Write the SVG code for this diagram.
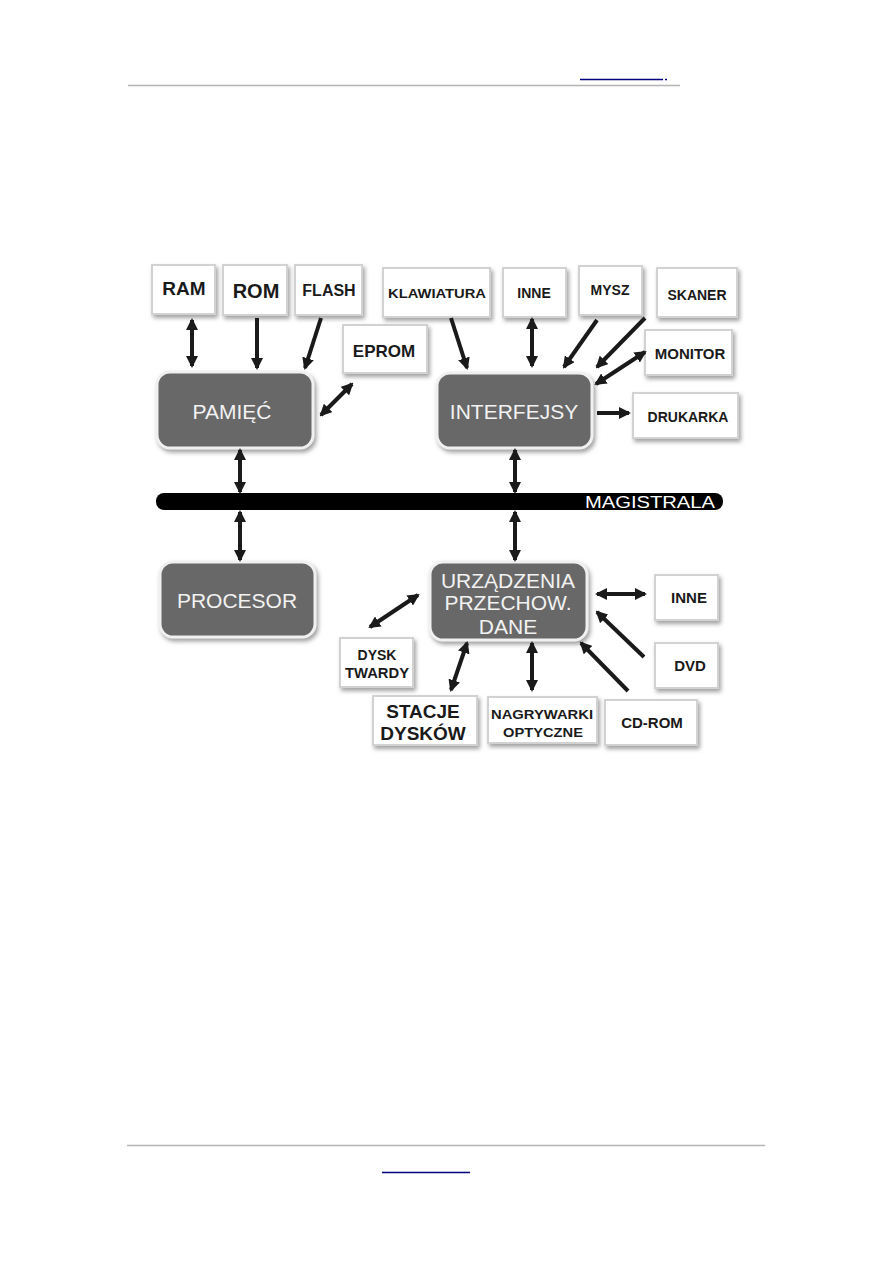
<svg xmlns="http://www.w3.org/2000/svg" width="893" height="1263" viewBox="0 0 893 1263">
<defs>
<filter id="sh" x="-20%" y="-20%" width="150%" height="160%">
<feDropShadow dx="2" dy="3" stdDeviation="2" flood-color="#8a8a8a" flood-opacity="0.8"/>
</filter>
<marker id="ah" viewBox="0 0 12 12" refX="10" refY="6" markerWidth="12" markerHeight="12" markerUnits="userSpaceOnUse" orient="auto-start-reverse">
<path d="M0,0 L12,6 L0,12 z" fill="#1a1a1a"/>
</marker>
</defs>
<style>
.bx{fill:#ffffff;stroke:#d2d2d2;stroke-width:2;filter:url(#sh)}
.dk{fill:#676767;stroke:#f0f0f0;stroke-width:3;filter:url(#sh)}
.t{font-family:"Liberation Sans",Arial,sans-serif;font-weight:bold;fill:#1a1a1a;text-anchor:middle}
.w{font-family:"Liberation Sans",Arial,sans-serif;fill:#f2f2f2;text-anchor:middle;font-size:21px}
.a{stroke:#1a1a1a;stroke-width:4;fill:none;marker-end:url(#ah)}
.d{stroke:#1a1a1a;stroke-width:4;fill:none;marker-end:url(#ah);marker-start:url(#ah)}
.rule{stroke:#b4b4b4;stroke-width:1.5}
.lnk{stroke:#000080;stroke-width:1.5}
</style>
<rect width="893" height="1263" fill="#ffffff"/>
<g id="page">
<line class="rule" x1="128" y1="85.5" x2="680" y2="85.5"/>
<line class="lnk" x1="580" y1="79.5" x2="663" y2="79.5"/>
<line class="lnk" x1="665" y1="79.5" x2="667" y2="79.5"/>
<line class="rule" x1="127" y1="1145.5" x2="765" y2="1145.5"/>
<line class="lnk" x1="382" y1="1172.5" x2="470" y2="1172.5"/>
</g>
<g id="bus">
<rect x="156" y="493" width="567" height="17" rx="8" fill="#000"/>
<text x="585" y="508" font-family="'Liberation Sans',Arial,sans-serif" font-size="17" fill="#ffffff" textLength="130" lengthAdjust="spacingAndGlyphs">MAGISTRALA</text>
</g>
<g id="ram"><rect class="bx" x="152" y="265" width="63" height="49"/><text class="t" x="184" y="295" font-size="19">RAM</text></g>
<g id="rom"><rect class="bx" x="223" y="265" width="64" height="50"/><text class="t" x="256" y="298" font-size="20">ROM</text></g>
<g id="flash"><rect class="bx" x="295" y="265" width="67" height="50"/><text class="t" x="329" y="296" font-size="16">FLASH</text></g>
<g id="eprom"><rect class="bx" x="343" y="325" width="84" height="48"/><text class="t" x="384" y="357" font-size="17">EPROM</text></g>
<g id="klawiatura"><rect class="bx" x="383" y="268" width="107" height="49"/><text class="t" x="437" y="298" font-size="13" textLength="98" lengthAdjust="spacingAndGlyphs">KLAWIATURA</text></g>
<g id="inne1"><rect class="bx" x="503" y="268" width="63" height="49"/><text class="t" x="534" y="298" font-size="14">INNE</text></g>
<g id="mysz"><rect class="bx" x="579" y="266" width="63" height="49"/><text class="t" x="610" y="295" font-size="14">MYSZ</text></g>
<g id="skaner"><rect class="bx" x="657" y="268" width="80" height="49"/><text class="t" x="697" y="300" font-size="14">SKANER</text></g>
<g id="monitor"><rect class="bx" x="645" y="330" width="87" height="45"/><text class="t" x="690" y="359" font-size="15">MONITOR</text></g>
<g id="drukarka"><rect class="bx" x="633" y="393" width="105" height="45"/><text class="t" x="688" y="422" font-size="14">DRUKARKA</text></g>
<g id="pamiec"><rect class="dk" x="157" y="372" width="156" height="76" rx="13"/><text class="w" x="232" y="419">PAMIĘĆ</text></g>
<g id="interfejsy"><rect class="dk" x="437" y="373" width="155" height="75" rx="13"/><text class="w" x="514" y="419">INTERFEJSY</text></g>
<g id="procesor"><rect class="dk" x="160" y="562" width="155" height="75" rx="13"/><text class="w" x="237" y="608">PROCESOR</text></g>
<g id="urzadzenia"><rect class="dk" x="430" y="562" width="157" height="78" rx="13"/>
<text class="w" x="508" y="588">URZĄDZENIA</text><text class="w" x="508" y="610">PRZECHOW.</text><text class="w" x="508" y="634">DANE</text></g>
<g id="inne2"><rect class="bx" x="655" y="575" width="63" height="45"/><text class="t" x="689" y="603" font-size="15">INNE</text></g>
<g id="dvd"><rect class="bx" x="655" y="643" width="63" height="45"/><text class="t" x="690" y="671" font-size="15">DVD</text></g>
<g id="cdrom"><rect class="bx" x="605" y="700" width="92" height="45"/><text class="t" x="652" y="728" font-size="15">CD-ROM</text></g>
<g id="nagrywarki"><rect class="bx" x="488" y="697" width="109" height="46"/><text class="t" x="542" y="719" font-size="13" textLength="102" lengthAdjust="spacingAndGlyphs">NAGRYWARKI</text><text class="t" x="543" y="737" font-size="13" textLength="80" lengthAdjust="spacingAndGlyphs">OPTYCZNE</text></g>
<g id="stacje"><rect class="bx" x="373" y="696" width="104" height="49"/><text class="t" x="423" y="718" font-size="19">STACJE</text><text class="t" x="423" y="740" font-size="19">DYSKÓW</text></g>
<g id="dysk"><rect class="bx" x="340" y="638" width="73" height="49"/><text class="t" x="377" y="660" font-size="14">DYSK</text><text class="t" x="377" y="678" font-size="14" textLength="64" lengthAdjust="spacingAndGlyphs">TWARDY</text></g>
<g id="connectors">
<line class="d" x1="192" y1="320" x2="192" y2="366"/>
<line class="a" x1="257" y1="318" x2="257" y2="368"/>
<line class="a" x1="321" y1="318" x2="305" y2="368"/>
<line class="d" x1="352" y1="384" x2="321" y2="415"/>
<line class="a" x1="451" y1="318" x2="467" y2="368"/>
<line class="d" x1="532" y1="319" x2="532" y2="366"/>
<line class="a" x1="597" y1="320" x2="564" y2="367"/>
<line class="a" x1="645" y1="318" x2="597" y2="367"/>
<line class="d" x1="596" y1="384" x2="645" y2="352"/>
<line class="a" x1="597" y1="413" x2="629" y2="413"/>
<line class="d" x1="240" y1="450" x2="240" y2="492"/>
<line class="d" x1="240" y1="512" x2="240" y2="560"/>
<line class="d" x1="515" y1="450" x2="515" y2="492"/>
<line class="d" x1="515" y1="512" x2="515" y2="560"/>
<line class="d" x1="597" y1="594" x2="645" y2="594"/>
<line class="a" x1="644" y1="657" x2="597" y2="612"/>
<line class="a" x1="628" y1="691" x2="581" y2="643"/>
<line class="d" x1="532" y1="643" x2="532" y2="690"/>
<line class="d" x1="467" y1="643" x2="451" y2="690"/>
<line class="d" x1="418" y1="595" x2="370" y2="627"/>
</g>
</svg>
